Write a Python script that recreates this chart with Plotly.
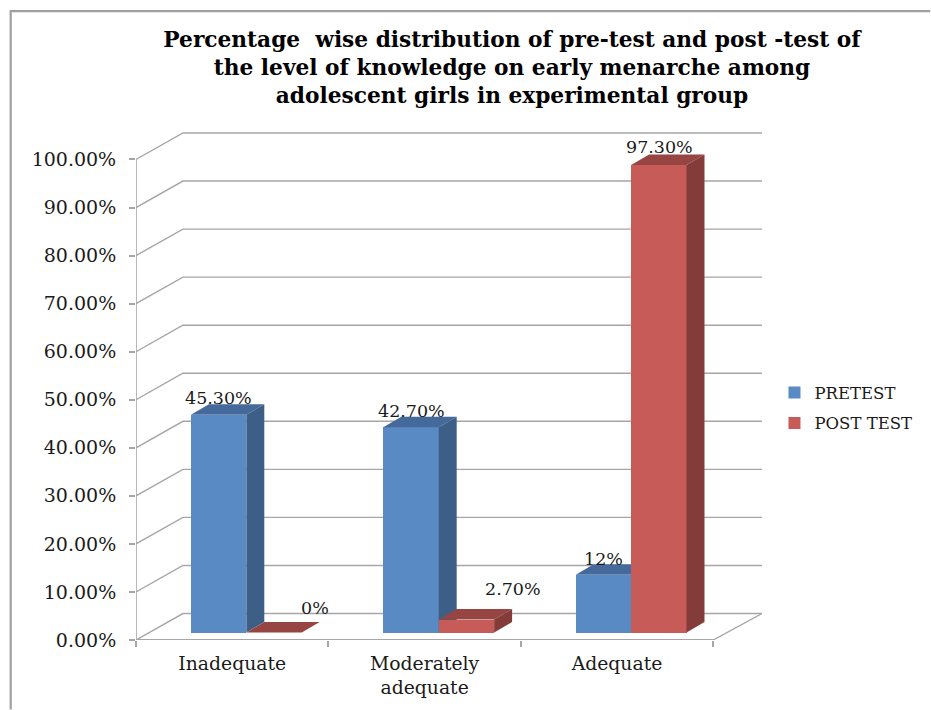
import plotly.graph_objects as go

categories = ["Inadequate", "Moderately<br>adequate", "Adequate"]
pretest = [45.3, 42.7, 12.0]
posttest = [0.0, 2.7, 97.3]
pre_labels = ["45.30%", "42.70%", "12%"]
post_labels = ["0%", "2.70%", "97.30%"]
y_ticks = [0, 10, 20, 30, 40, 50, 60, 70, 80, 90, 100]
y_labels = ["%.2f%%" % v for v in y_ticks]
title = ("Percentage  wise distribution of pre-test and post -test of<br>"
         "the level of knowledge on early menarche among<br>"
         "adolescent girls in experimental group")

W, H = 931, 710
L, R, T, B = 135.5, 762.5, 132, 640.5          # plot box in page pixels
PX_X = 192.7                                   # pixels per category
PX_Y = 4.81                                    # pixels per percent
XMAX = (R - L) / PX_X
YMAX = (B - T) / PX_Y
WALL_DX, WALL_DY = 47 / PX_X, 26.5 / PX_Y      # oblique depth of the chart box
DEPTH_DX, DEPTH_DY = 18 / PX_X, 10.5 / PX_Y    # oblique depth of a bar
BASE_DY = 7.5 / PX_Y                           # bars stand slightly into the floor
BAR_W = 55.5 / PX_X
BAR_GAP0 = (190.5 - L) / PX_X                  # first bar's left edge inside a category

GRID = "#A6A6A6"
SERIF = "DejaVu Serif"
TXT = "#1a1a1a"

shapes = []
for v in y_ticks:
    path = f"M 0 {v} L {WALL_DX} {v + WALL_DY} L {XMAX} {v + WALL_DY}"
    shapes.append(dict(type="path", path=path, xref="x", yref="y", layer="below",
                       line=dict(color=GRID, width=1.4)))
shapes.append(dict(type="line", xref="x", yref="y", layer="below", x0=3, y0=0,
                   x1=XMAX, y1=WALL_DY, line=dict(color=GRID, width=1.4)))
shapes.append(dict(type="line", xref="x", yref="y", layer="below", x0=0, x1=3, y0=0, y1=0,
                   line=dict(color=GRID, width=2)))
shapes.append(dict(type="line", xref="x", yref="y", layer="below", x0=0, x1=0, y0=0, y1=100,
                   line=dict(color=GRID, width=1.6)))
# slide border: left edge and top edge
bx = -(L - 10) / (R - L)
by = (B - 11) / (B - T)
shapes.append(dict(type="path", xref="paper", yref="paper", layer="below",
                   path=f"M {bx} {-(H - B) / (B - T)} L {bx} {by} L {(W - L) / (R - L)} {by}",
                   line=dict(color="#A0A0A0", width=2.2)))

fig = go.Figure()


def add_series(name, values, col_idx, front, top, side, xa, ya):
    xs = [i + BAR_GAP0 + col_idx * BAR_W + BAR_W / 2 for i in range(3)]
    fig.add_trace(go.Bar(x=xs, y=values, base=BASE_DY, width=BAR_W, name=name, legendgroup=name,
                         marker=dict(color=front, line=dict(width=0)),
                         xaxis=xa, yaxis=ya, showlegend=True, hoverinfo="skip"))
    for x, v in zip(xs, values):
        x0, x1 = x - BAR_W / 2, x + BAR_W / 2
        y0, y1 = BASE_DY, BASE_DY + v
        fig.add_trace(go.Scatter(
            x=[x0, x0 + DEPTH_DX, x1 + DEPTH_DX, x1, x0],
            y=[y1, y1 + DEPTH_DY, y1 + DEPTH_DY, y1, y1],
            fill="toself", fillcolor=top, mode="none", showlegend=False,
            legendgroup=name, hoverinfo="skip", xaxis=xa, yaxis=ya))
        if v > 0:
            fig.add_trace(go.Scatter(
                x=[x1, x1 + DEPTH_DX, x1 + DEPTH_DX, x1, x1],
                y=[y0, y0 + DEPTH_DY, y1 + DEPTH_DY, y1, y0],
                fill="toself", fillcolor=side, mode="none", showlegend=False,
                legendgroup=name, hoverinfo="skip", xaxis=xa, yaxis=ya))
    return xs


pre_x = add_series("PRETEST", pretest, 0, "#5A8AC4", "#44699A", "#3D5F87", "x", "y")
post_x = add_series("POST TEST", posttest, 1, "#C65B58", "#974543", "#843C3A", "x2", "y2")

annotations = []
label_shift = {"45.30%": (0, 17), "42.70%": (0, 16), "12%": (0, 16), "97.30%": (1, 18),
               "0%": (41, 25), "2.70%": (47, 31)}
for xs, vals, labs in ((pre_x, pretest, pre_labels), (post_x, posttest, post_labels)):
    for x, v, t in zip(xs, vals, labs):
        dx, dy = label_shift[t]
        annotations.append(dict(x=x, y=v + BASE_DY, xref="x2", yref="y2", text=t,
                                showarrow=False, xshift=dx, yshift=dy,
                                font=dict(family=SERIF, size=17.5, color=TXT)))

fig.update_layout(
    width=W, height=H, autosize=False,
    margin=dict(l=L, r=W - R, t=T, b=H - B, pad=0),
    paper_bgcolor="white", plot_bgcolor="rgba(0,0,0,0)",
    barmode="overlay", bargap=0,
    title=dict(text=title, x=512 / W, xanchor="center", y=1 - 47 / H, yanchor="middle",
               font=dict(family=SERIF, size=21.7, color="black", weight="bold")),
    legend=dict(x=(775 - L) / (R - L), xanchor="left", y=(B - 408) / (B - T), yanchor="middle",
                font=dict(family=SERIF, size=16.5, color=TXT), bgcolor="rgba(0,0,0,0)",
                tracegroupgap=6),
    shapes=shapes, annotations=annotations,
    xaxis=dict(range=[0, XMAX], showgrid=False, zeroline=False, showline=False,
               tickmode="array", tickvals=[0.5, 1.5, 2.5], ticktext=categories, ticks="",
               ticklabelstandoff=10,
               tickfont=dict(family=SERIF, size=18.8, color=TXT),
               minor=dict(tickmode="array", tickvals=[0, 1, 2, 3], ticks="outside",
                          ticklen=6, tickcolor=GRID, tickwidth=1.5)),
    yaxis=dict(range=[0, YMAX], showgrid=False, zeroline=False, showline=False,
               tickmode="array", tickvals=y_ticks, ticktext=y_labels, ticks="outside",
               ticklen=6, tickcolor=GRID, tickwidth=1.5, ticklabelstandoff=9,
               tickfont=dict(family=SERIF, size=19, color=TXT)),
    xaxis2=dict(range=[0, XMAX], overlaying="x", visible=False),
    yaxis2=dict(range=[0, YMAX], overlaying="y", visible=False),
)

fig.write_html("out.html", config={"displayModeBar": False},
               post_script="document.body.style.margin='0';document.body.style.overflow='hidden';")
